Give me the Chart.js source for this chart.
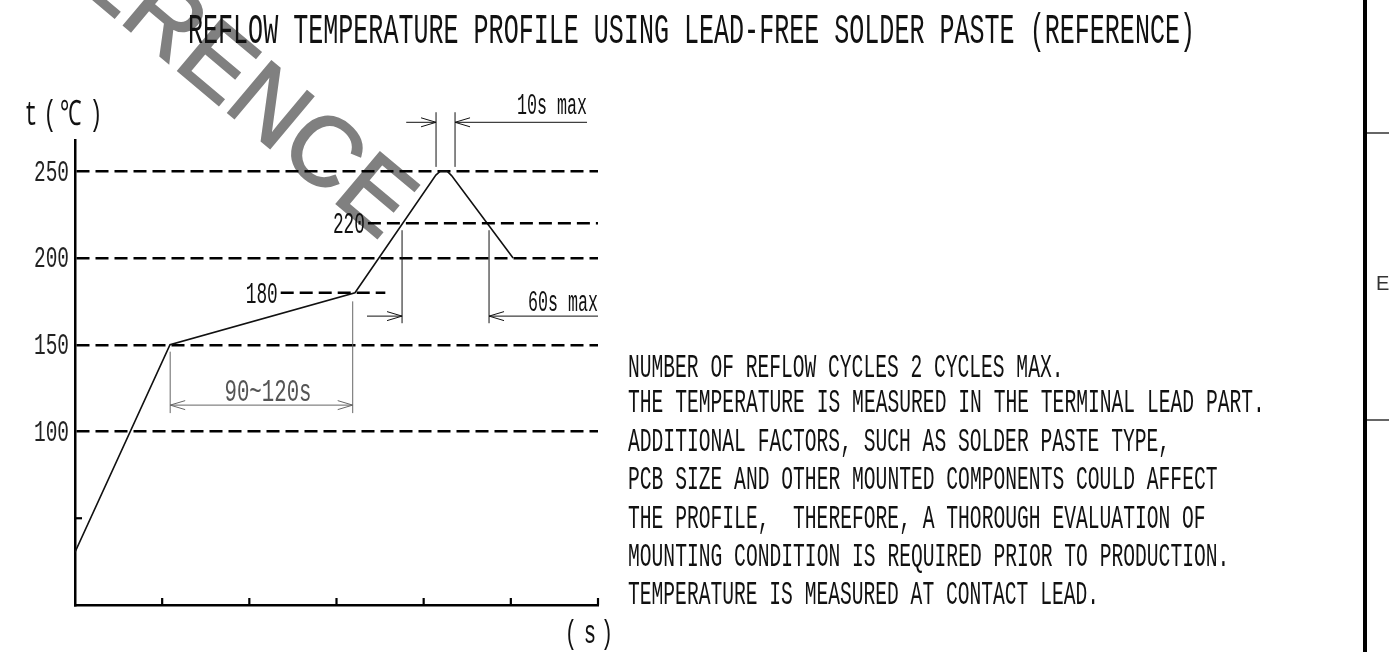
<!DOCTYPE html>
<html>
<head>
<meta charset="utf-8">
<script src="https://cdn.jsdelivr.net/npm/chart.js@4.4.0/dist/chart.umd.min.js"></script>
<style>
  html, body { margin: 0; padding: 0; background: #fff; overflow: hidden; }
  canvas { display: block; }
</style>
</head>
<body>
<canvas id="chart" width="1398" height="652"></canvas>
<script>
// reflow profile, time (s, drawing units) vs temperature (C)
const timeS = [0, 54.5, 160.6, 207, 209.5, 213.5, 216, 251.3];
const tempC = [30.5, 150, 180, 247.8, 250, 250, 247.5, 200];

// labelled tick levels on the temperature axis
const tempTicks = [100, 150, 200, 250];

// short labelled guide lines
const guideTemps = [180, 220];
const guideFrom = [118, 168];
const guideTo = [178, 300];

// dimension marks
const peakSpan = [207.1, 218];      // 10s max
const liquidSpan = [187.6, 237.5];  // 60s max
const soakSpan = [54.6, 159.3];     // 90~120s

const title = 'REFLOW TEMPERATURE PROFILE USING LEAD-FREE SOLDER PASTE (REFERENCE)';
const notes = [
  'NUMBER OF REFLOW CYCLES 2 CYCLES MAX.',
  'THE TEMPERATURE IS MEASURED IN THE TERMINAL LEAD PART.',
  'ADDITIONAL FACTORS, SUCH AS SOLDER PASTE TYPE,',
  'PCB SIZE AND OTHER MOUNTED COMPONENTS COULD AFFECT',
  'THE PROFILE,  THEREFORE, A THOROUGH EVALUATION OF',
  'MOUNTING CONDITION IS REQUIRED PRIOR TO PRODUCTION.',
  'TEMPERATURE IS MEASURED AT CONTACT LEAD.'
];
const noteY = [366, 401, 440, 478, 517, 555, 593];

const MONO = "'Liberation Mono', 'DejaVu Sans Mono', monospace";

// draws text squeezed to a given width, cap height centred on yMid
function fitText(ctx, str, x, yMid, width, cap, align, color) {
  ctx.save();
  ctx.font = (cap / 0.66).toFixed(1) + 'px ' + MONO;
  const w = ctx.measureText(str).width;
  const x0 = align === 'right' ? x - width : align === 'center' ? x - width / 2 : x;
  ctx.fillStyle = color || '#111';
  ctx.textAlign = 'left';
  ctx.textBaseline = 'alphabetic';
  ctx.translate(x0, yMid + cap / 2);
  ctx.scale(width / w, 1);
  ctx.fillText(str, 0, 0);
  ctx.restore();
}

function glyphs(ctx, chars, xs, yMid, cap, sx, color) {
  ctx.save();
  ctx.font = (cap / 0.66).toFixed(1) + 'px ' + MONO;
  ctx.fillStyle = color || '#111';
  ctx.textAlign = 'center';
  ctx.textBaseline = 'alphabetic';
  chars.forEach((c, i) => {
    ctx.save();
    ctx.translate(xs[i], yMid + cap / 2);
    ctx.scale(sx, 1);
    ctx.fillText(c, 0, 0);
    ctx.restore();
  });
  ctx.restore();
}

function line(ctx, x1, y1, x2, y2) {
  ctx.beginPath();
  ctx.moveTo(x1, y1);
  ctx.lineTo(x2, y2);
  ctx.stroke();
}

function arrowHead(ctx, x, y, dir) {
  ctx.beginPath();
  ctx.moveTo(x - dir * 15, y - 4.5);
  ctx.lineTo(x, y);
  ctx.lineTo(x - dir * 15, y + 4.5);
  ctx.stroke();
}

const drawing = {
  id: 'drawing',
  beforeDraw(chart) {
    const ctx = chart.ctx;
    // watermark
    ctx.save();
    ctx.translate(398, 220);
    ctx.rotate(40 * Math.PI / 180);
    ctx.font = "98px 'Liberation Sans', Arial, sans-serif";
    ctx.fillStyle = '#808080';
    ctx.strokeStyle = '#808080';
    ctx.lineWidth = 2;
    ctx.textAlign = 'right';
    ctx.textBaseline = 'middle';
    ctx.fillText('REFERENCE', 0, 0);
    ctx.strokeText('REFERENCE', 0, 0);
    ctx.restore();
  },
  afterDraw(chart) {
    const ctx = chart.ctx;
    const xs = chart.scales.x, ys = chart.scales.y;
    const px = v => xs.getPixelForValue(v);
    const py = v => ys.getPixelForValue(v);
    const area = chart.chartArea;

    ctx.save();
    ctx.strokeStyle = '#000';
    ctx.lineCap = 'butt';

    // temperature tick labels
    ys.ticks.forEach(t => {
      if (tempTicks.includes(t.value)) fitText(ctx, String(t.value), area.left - 6, py(t.value), 35, 19, 'right', '#222');
    });

    // inward tick marks
    ctx.lineWidth = 2.2;
    xs.ticks.forEach(t => { if (t.value > 0) line(ctx, px(t.value), area.bottom, px(t.value), area.bottom - 7); });
    ys.ticks.forEach(t => { if (t.value > 0 && !tempTicks.includes(t.value)) line(ctx, area.left, py(t.value), area.left + 7, py(t.value)); });

    // labelled guide lines
    ctx.lineWidth = 2.4;
    ctx.setLineDash([13, 6]);
    guideTemps.forEach((t, i) => line(ctx, px(guideFrom[i]), py(t), px(guideTo[i]), py(t)));
    ctx.setLineDash([]);
    guideTemps.forEach((t, i) => fitText(ctx, String(t), px(guideFrom[i]) - 3, py(t), 32, 20, 'right'));

    // 10s max
    ctx.lineWidth = 1;
    ctx.strokeStyle = '#111';
    let yA = py(278.2);
    peakSpan.forEach(v => line(ctx, px(v), py(284), px(v), py(252.5)));
    line(ctx, px(190), yA, px(peakSpan[0]), yA);
    arrowHead(ctx, px(peakSpan[0]), yA, 1);
    line(ctx, px(peakSpan[1]), yA, px(293.7), yA);
    arrowHead(ctx, px(peakSpan[1]), yA, -1);
    fitText(ctx, '10s max', px(293.7), yA - 18, 70, 20, 'right');

    // 60s max
    yA = py(166.5);
    liquidSpan.forEach(v => line(ctx, px(v), py(216), px(v), py(162.4)));
    line(ctx, px(167.5), yA, px(liquidSpan[0]), yA);
    arrowHead(ctx, px(liquidSpan[0]), yA, 1);
    line(ctx, px(liquidSpan[1]), yA, px(300), yA);
    arrowHead(ctx, px(liquidSpan[1]), yA, -1);
    fitText(ctx, '60s max', px(300), yA - 15, 70, 20, 'right');

    // 90~120s
    ctx.strokeStyle = '#666';
    yA = py(115.2);
    line(ctx, px(soakSpan[0]), py(146), px(soakSpan[0]), py(110.6));
    line(ctx, px(soakSpan[1]), py(175), px(soakSpan[1]), py(110.6));
    line(ctx, px(soakSpan[0]), yA, px(soakSpan[1]), yA);
    arrowHead(ctx, px(soakSpan[0]), yA, -1);
    arrowHead(ctx, px(soakSpan[1]), yA, 1);
    fitText(ctx, '90~120s', 268, yA - 15, 87, 21, 'center', '#555');

    // axis titles
    glyphs(ctx, ['t', '(', '℃', ')'], [31, 50, 71, 96], 113, 23, 0.62);
    glyphs(ctx, ['(', 's', ')'], [571, 590, 607], 632, 22, 0.62);

    // title and notes
    fitText(ctx, title, 188, 28.5, 1007, 28, 'left');
    notes.forEach((s, i) => fitText(ctx, s, 628, noteY[i], s.length * 11.85 - 3, 22, 'left'));

    // frame on the right edge
    ctx.strokeStyle = '#000';
    ctx.lineWidth = 4;
    line(ctx, 1365, 0, 1365, 652);
    ctx.lineWidth = 1.2;
    line(ctx, 1367, 133, 1389, 133);
    line(ctx, 1367, 420, 1389, 420);
    ctx.font = "20px 'Liberation Sans', Arial, sans-serif";
    ctx.fillStyle = '#333';
    ctx.textAlign = 'left';
    ctx.textBaseline = 'middle';
    ctx.fillText('E', 1376, 284);
    ctx.restore();
  }
};

new Chart(document.getElementById('chart'), {
  type: 'line',
  data: {
    datasets: [{
      data: timeS.map((t, i) => ({ x: t, y: tempC[i] })),
      borderColor: '#111',
      borderWidth: 1.6,
      pointRadius: 0,
      tension: 0,
      fill: false
    }]
  },
  options: {
    responsive: false,
    animation: false,
    layout: { padding: { left: 0, right: 800, top: 140, bottom: 47 } },
    plugins: { legend: { display: false }, tooltip: { enabled: false } },
    scales: {
      x: {
        type: 'linear',
        min: 0,
        max: 300,
        ticks: { display: false, stepSize: 50 },
        grid: { display: false },
        border: { color: '#000', width: 2.5 },
        afterFit(s) { s.height = 0; }
      },
      y: {
        min: 0,
        max: 268,
        ticks: { display: false, stepSize: 50, includeBounds: false },
        grid: {
          drawTicks: false,
          lineWidth: 2.4,
          color: c => (c.tick && tempTicks.includes(c.tick.value)) ? '#000' : 'rgba(0,0,0,0)'
        },
        border: { color: '#000', width: 2.5, dash: [13, 6] },
        afterFit(s) { s.width = 75; }
      }
    }
  },
  plugins: [drawing]
});
</script>
</body>
</html>
